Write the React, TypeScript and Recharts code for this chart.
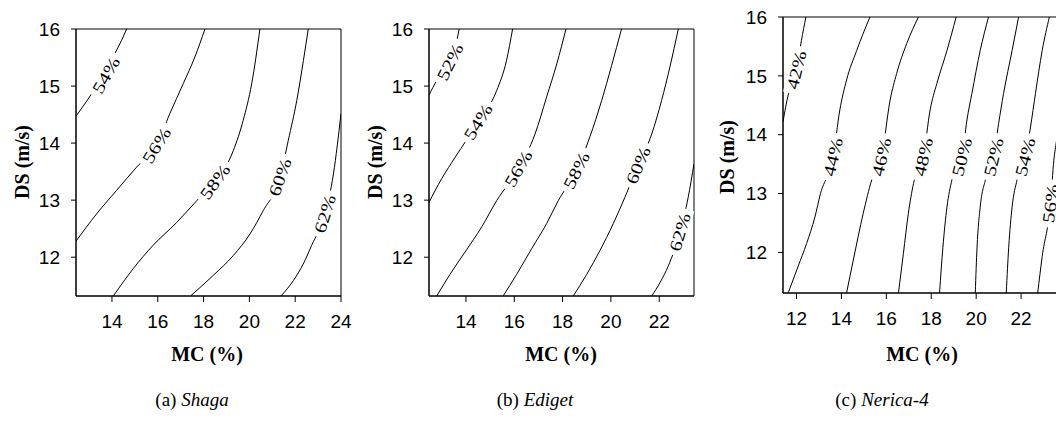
import React from 'react'
import { LineChart, Line, XAxis, YAxis, ReferenceArea } from 'recharts'

type Pt = { mc: number; ds: number; label?: string }

const dsTicks = [12, 13, 14, 15, 16]
const mcTicksA = [14, 16, 18, 20, 22, 24]
const mcTicksB = [14, 16, 18, 20, 22]
const mcTicksC = [12, 14, 16, 18, 20, 22]

// (a) Shaga contours
const shaga54: Pt[] = [
  { mc: 12.43, ds: 14.47 }, { mc: 12.92, ds: 14.75 }, { mc: 13.26, ds: 14.95 },
  { mc: 13.74, ds: 15.19, label: '54%' }, { mc: 14.13, ds: 15.57 }, { mc: 14.42, ds: 15.8 },
  { mc: 14.64, ds: 16 },
]
const shaga56: Pt[] = [
  { mc: 12.43, ds: 12.28 }, { mc: 13.33, ds: 12.76 }, { mc: 14.2, ds: 13.17 },
  { mc: 15.08, ds: 13.58 }, { mc: 15.95, ds: 13.96, label: '56%' }, { mc: 16.53, ds: 14.52 },
  { mc: 17.11, ds: 15.04 }, { mc: 17.62, ds: 15.51 }, { mc: 18.06, ds: 16 },
]
const shaga58: Pt[] = [
  { mc: 14.06, ds: 11.32 }, { mc: 14.93, ds: 11.8 }, { mc: 15.8, ds: 12.21 },
  { mc: 16.83, ds: 12.61 }, { mc: 17.7, ds: 12.99 }, { mc: 18.5, ds: 13.32, label: '58%' },
  { mc: 19.3, ds: 13.87 }, { mc: 19.73, ds: 14.4 }, { mc: 20.1, ds: 15.04 }, { mc: 20.46, ds: 16 },
]
const shaga60: Pt[] = [
  { mc: 17.43, ds: 11.32 }, { mc: 18.42, ds: 11.68 }, { mc: 19.3, ds: 12.03 },
  { mc: 20.03, ds: 12.41 }, { mc: 20.61, ds: 12.82 }, { mc: 21.34, ds: 13.4, label: '60%' },
  { mc: 21.7, ds: 14.05 }, { mc: 22.07, ds: 14.75 }, { mc: 22.36, ds: 15.45 }, { mc: 22.57, ds: 16 },
]
const shaga62: Pt[] = [
  { mc: 21.38, ds: 11.32 }, { mc: 21.92, ds: 11.59 }, { mc: 22.35, ds: 11.88 },
  { mc: 22.72, ds: 12.21 }, { mc: 23.3, ds: 12.76, label: '62%' }, { mc: 23.67, ds: 13.46 },
  { mc: 24, ds: 14.52 },
]

// (b) Ediget contours
const ediget52: Pt[] = [
  { mc: 12.47, ds: 14.84 }, { mc: 12.79, ds: 15.1 }, { mc: 13.34, ds: 15.42, label: '52%' },
  { mc: 13.62, ds: 15.8 }, { mc: 13.72, ds: 16 },
]
const ediget54: Pt[] = [
  { mc: 12.47, ds: 12.96 }, { mc: 13.0, ds: 13.38 }, { mc: 13.55, ds: 13.75 },
  { mc: 14.51, ds: 14.37, label: '54%' }, { mc: 15.27, ds: 14.92 }, { mc: 15.68, ds: 15.45 },
  { mc: 15.93, ds: 16 },
]
const ediget56: Pt[] = [
  { mc: 12.79, ds: 11.32 }, { mc: 13.34, ds: 11.7 }, { mc: 13.96, ds: 12.09 },
  { mc: 14.65, ds: 12.53 }, { mc: 15.27, ds: 12.99 }, { mc: 16.17, ds: 13.55, label: '56%' },
  { mc: 16.86, ds: 14.16 }, { mc: 17.34, ds: 14.81 }, { mc: 17.76, ds: 15.39 }, { mc: 18.14, ds: 16 },
]
const ediget58: Pt[] = [
  { mc: 15.54, ds: 11.32 }, { mc: 16.1, ds: 11.7 }, { mc: 16.72, ds: 12.15 },
  { mc: 17.34, ds: 12.59 }, { mc: 17.82, ds: 12.99 }, { mc: 18.58, ds: 13.52, label: '58%' },
  { mc: 19.13, ds: 14.11 }, { mc: 19.62, ds: 14.75 }, { mc: 20.03, ds: 15.36 }, { mc: 20.44, ds: 16 },
]
const ediget60: Pt[] = [
  { mc: 18.44, ds: 11.32 }, { mc: 19.0, ds: 11.7 }, { mc: 19.55, ds: 12.12 },
  { mc: 20.1, ds: 12.59 }, { mc: 20.58, ds: 13.05 }, { mc: 21.13, ds: 13.61, label: '60%' },
  { mc: 21.69, ds: 14.16 }, { mc: 22.1, ds: 14.75 }, { mc: 22.44, ds: 15.33 }, { mc: 22.79, ds: 16 },
]
const ediget62: Pt[] = [
  { mc: 21.69, ds: 11.32 }, { mc: 22.04, ds: 11.56 }, { mc: 22.38, ds: 11.85 },
  { mc: 22.86, ds: 12.44, label: '62%' }, { mc: 23.2, ds: 13.05 }, { mc: 23.44, ds: 13.64 },
]

// (c) Nerica-4 contours
const nerica42: Pt[] = [
  { mc: 11.4, ds: 14.22 }, { mc: 11.58, ds: 14.59 }, { mc: 12.0, ds: 15.1, label: '42%' },
  { mc: 12.22, ds: 15.6 }, { mc: 12.42, ds: 16 },
]
const nerica44: Pt[] = [
  { mc: 11.63, ds: 11.31 }, { mc: 12.07, ds: 11.76 }, { mc: 12.45, ds: 12.15 },
  { mc: 12.82, ds: 12.6 }, { mc: 13.07, ds: 13.0 }, { mc: 13.63, ds: 13.62, label: '44%' },
  { mc: 13.93, ds: 14.42 }, { mc: 14.23, ds: 14.93 }, { mc: 14.68, ds: 15.43 }, { mc: 15.27, ds: 16 },
]
const nerica46: Pt[] = [
  { mc: 14.23, ds: 11.31 }, { mc: 14.53, ds: 11.87 }, { mc: 14.97, ds: 12.66 },
  { mc: 15.35, ds: 13.23 }, { mc: 15.79, ds: 13.62, label: '46%' }, { mc: 16.17, ds: 14.59 },
  { mc: 16.46, ds: 15.04 }, { mc: 16.91, ds: 15.55 }, { mc: 17.43, ds: 16 },
]
const nerica48: Pt[] = [
  { mc: 16.54, ds: 11.31 }, { mc: 16.76, ds: 11.98 }, { mc: 16.98, ds: 12.66 },
  { mc: 17.21, ds: 13.17 }, { mc: 17.65, ds: 13.62, label: '48%' }, { mc: 17.95, ds: 14.42 },
  { mc: 18.25, ds: 14.87 }, { mc: 18.7, ds: 15.43 }, { mc: 19.11, ds: 16 },
]
const nerica50: Pt[] = [
  { mc: 18.37, ds: 11.31 }, { mc: 18.52, ds: 12.09 }, { mc: 18.7, ds: 12.77 },
  { mc: 18.92, ds: 13.23 }, { mc: 19.37, ds: 13.62, label: '50%' }, { mc: 19.59, ds: 14.25 },
  { mc: 19.81, ds: 14.7 }, { mc: 20.18, ds: 15.43 }, { mc: 20.55, ds: 16 },
]
const nerica52: Pt[] = [
  { mc: 19.96, ds: 11.31 }, { mc: 20.04, ds: 12.09 }, { mc: 20.18, ds: 12.77 },
  { mc: 20.41, ds: 13.23 }, { mc: 20.78, ds: 13.62, label: '52%' }, { mc: 21.0, ds: 14.19 },
  { mc: 21.22, ds: 14.7 }, { mc: 21.6, ds: 15.43 }, { mc: 21.89, ds: 16 },
]
const nerica54: Pt[] = [
  { mc: 21.34, ds: 11.31 }, { mc: 21.45, ds: 12.09 }, { mc: 21.6, ds: 12.77 },
  { mc: 21.82, ds: 13.23 }, { mc: 22.19, ds: 13.62, label: '54%' }, { mc: 22.42, ds: 14.13 },
  { mc: 22.64, ds: 14.7 }, { mc: 22.94, ds: 15.43 }, { mc: 23.26, ds: 16 },
]
const nerica56: Pt[] = [
  { mc: 22.74, ds: 11.31 }, { mc: 22.94, ds: 11.93 }, { mc: 23.31, ds: 12.83, label: '56%' },
  { mc: 23.46, ds: 13.57 }, { mc: 23.58, ds: 13.91 }, { mc: 23.75, ds: 14.59 }, { mc: 23.95, ds: 15.3 },
]

const serif = 'Liberation Serif, Times New Roman, serif'
const sans = 'Liberation Sans, Arial, sans-serif'

const ContourLabel = (props: any) => {
  const { cx, cy, index, points, payload } = props
  if (!payload || !payload.label || !points) return <g key={`d-${index}`} />
  const a = points[Math.max(0, index - 1)]
  const b = points[Math.min(points.length - 1, index + 1)]
  const ang = (Math.atan2(b.y - a.y, b.x - a.x) * 180) / Math.PI
  return (
    <g key={`d-${index}`} transform={`translate(${cx},${cy}) rotate(${ang})`}>
      <rect x={-24} y={-8} width={48} height={16} fill="#fff" />
      <text
        textAnchor="middle"
        dominantBaseline="central"
        fontFamily={serif}
        fontSize={17}
        fill="#000"
        transform="scale(1.25,1)"
      >
        {payload.label}
      </text>
    </g>
  )
}

type PanelProps = {
  left: number
  width: number
  top: number
  bottom: number
  xDomain: [number, number]
  yDomain: [number, number]
  xTicks: number[]
  contours: Pt[][]
}

function Panel({ left, width, top, bottom, xDomain, yDomain, xTicks, contours }: PanelProps) {
  const tick = { fill: '#000', fontSize: 19, fontFamily: sans }
  return (
    <div style={{ position: 'absolute', left, top: 0 }}>
      <LineChart width={width} height={340} margin={{ top, right: 20, bottom, left: 0 }}>
        <XAxis
          dataKey="mc"
          type="number"
          domain={xDomain}
          ticks={xTicks}
          allowDataOverflow
          tickSize={6}
          tickMargin={13}
          tick={tick}
          axisLine={{ stroke: '#000' }}
          tickLine={{ stroke: '#000' }}
          height={30}
        />
        <YAxis
          dataKey="ds"
          type="number"
          domain={yDomain}
          ticks={dsTicks}
          allowDataOverflow
          tickSize={5}
          tickMargin={11}
          tick={tick}
          axisLine={{ stroke: '#000' }}
          tickLine={{ stroke: '#000' }}
          width={76}
        />
        <ReferenceArea
          x1={xDomain[0]}
          x2={xDomain[1]}
          y1={yDomain[0]}
          y2={yDomain[1]}
          fill="none"
          fillOpacity={0}
          stroke="#000"
          strokeWidth={1}
          ifOverflow="visible"
        />
        {contours.map((c, i) => (
          <Line
            key={i}
            data={c}
            dataKey="ds"
            type="monotone"
            stroke="#000"
            strokeWidth={1}
            dot={ContourLabel}
            activeDot={false}
            isAnimationActive={false}
          />
        ))}
      </LineChart>
    </div>
  )
}

export default function App() {
  return (
    <div style={{ position: 'absolute', left: 0, top: 0, width: 1056, height: 425, overflow: 'hidden', background: '#fff' }}>
      <Panel
        left={0}
        width={361}
        top={29}
        bottom={14}
        xDomain={[12.43, 24]}
        yDomain={[11.32, 16]}
        xTicks={mcTicksA}
        contours={[shaga54, shaga56, shaga58, shaga60, shaga62]}
      />
      <Panel
        left={353}
        width={361}
        top={29}
        bottom={14}
        xDomain={[12.47, 23.44]}
        yDomain={[11.32, 16]}
        xTicks={mcTicksB}
        contours={[ediget52, ediget54, ediget56, ediget58, ediget60, ediget62]}
      />
      <Panel
        left={707}
        width={379}
        top={17}
        bottom={17}
        xDomain={[11.4, 24]}
        yDomain={[11.31, 16]}
        xTicks={mcTicksC}
        contours={[nerica42, nerica44, nerica46, nerica48, nerica50, nerica52, nerica54, nerica56]}
      />
      <svg width={1056} height={425} style={{ position: 'absolute', left: 0, top: 0, pointerEvents: 'none' }}>
        <g fontFamily={serif} fontWeight="bold" fontSize={20} fill="#000" textAnchor="middle">
          <text x={207} y={361}>MC (%)</text>
          <text x={561} y={361}>MC (%)</text>
          <text x={922} y={361}>MC (%)</text>
          <text transform="translate(29,162) rotate(-90)">DS (m/s)</text>
          <text transform="translate(382,162) rotate(-90)">DS (m/s)</text>
          <text transform="translate(734,157) rotate(-90)">DS (m/s)</text>
        </g>
        <g fontFamily={serif} fontSize={19} fill="#000" textAnchor="middle">
          <text x={192} y={406}>(a) <tspan fontStyle="italic">Shaga</tspan></text>
          <text x={535} y={406}>(b) <tspan fontStyle="italic">Ediget</tspan></text>
          <text x={882} y={406}>(c) <tspan fontStyle="italic">Nerica-4</tspan></text>
        </g>
      </svg>
    </div>
  )
}
